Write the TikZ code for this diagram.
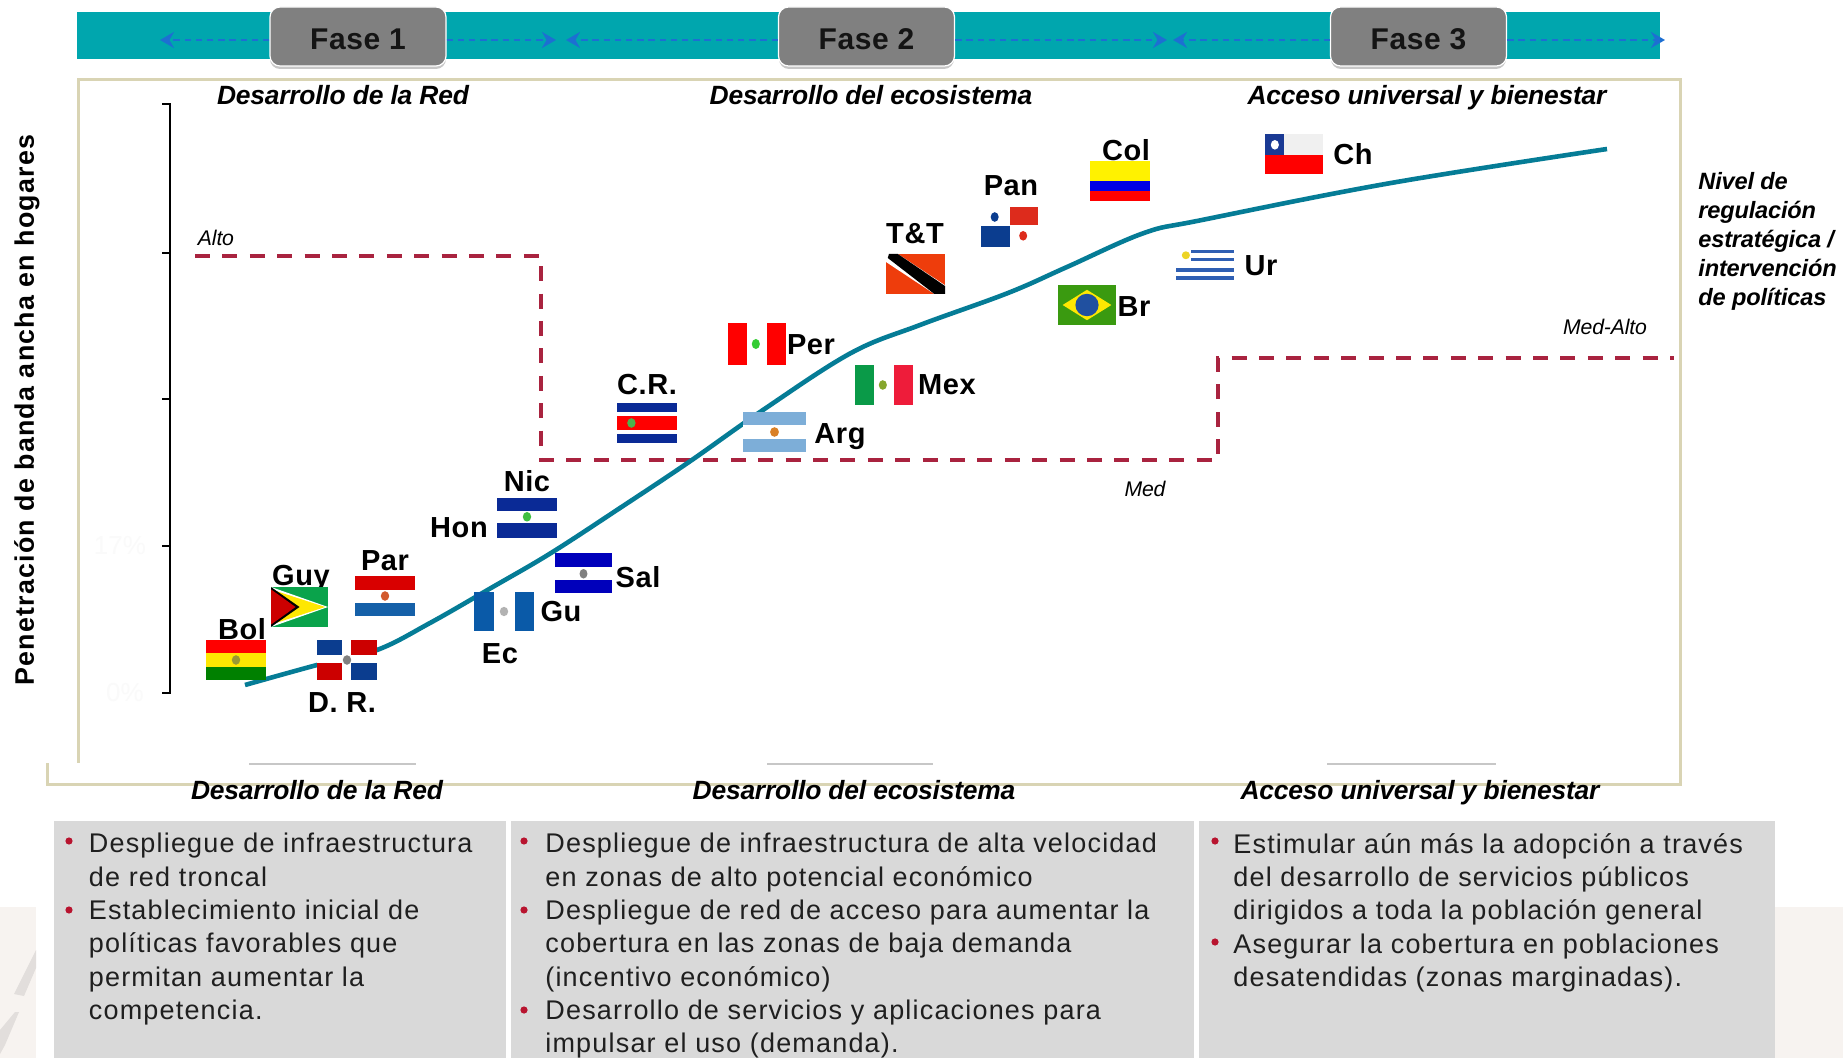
\documentclass[tikz,border=0pt]{standalone}
\usepackage{fontspec}
\setmainfont{Liberation Sans}
\newfontfamily\bodyf[LetterSpace=4.4]{Liberation Sans}
\newfontfamily\labf[LetterSpace=2]{Liberation Sans}
\newfontfamily\headf[LetterSpace=-0.8]{Liberation Sans}
\usetikzlibrary{arrows.meta}
\definecolor{bandc}{HTML}{00A6AE}
\definecolor{boxgray}{HTML}{808080}
\definecolor{framec}{HTML}{D9D4B4}
\definecolor{curvec}{HTML}{057C96}
\definecolor{redd}{HTML}{A9233F}
\definecolor{arrowc}{HTML}{1D6FD2}
\definecolor{panel}{HTML}{D9D9D9}
\definecolor{wm}{HTML}{F7F3F0}
\definecolor{streak}{HTML}{E2DEDC}
\definecolor{bulletc}{HTML}{B8142F}
\definecolor{argb}{HTML}{7DAED8}
\definecolor{guab}{HTML}{0A5AA8}
\definecolor{parb}{HTML}{1560A8}
\definecolor{drb}{HTML}{0B3D8F}
\definecolor{nicb}{HTML}{0A2A96}
\definecolor{salb}{HTML}{0000BB}
\definecolor{mexg}{HTML}{0A9A48}
\definecolor{mexr}{HTML}{EE1C3A}
\definecolor{guyg}{HTML}{0AA34B}
\definecolor{brg}{HTML}{3A9A10}
\definecolor{brb}{HTML}{2050A0}
\definecolor{ttr}{HTML}{EE3D0C}
\definecolor{panr}{HTML}{DD2B1C}
\definecolor{urb}{HTML}{2F5FB3}
\definecolor{chb}{HTML}{1A3A94}
\newcommand{\myflag}[5]{\begin{scope}[shift={(#1,#2)},x=#3*0.5pt-#1*0.5pt,y=#2*0.5pt-#4*0.5pt]#5\end{scope}}
\newcommand{\hb}[3]{\fill[#3] (0,#1) rectangle (1,#2);}
\newcommand{\vb}[3]{\fill[#3] (#1,0) rectangle (#2,1);}
\newcommand{\emb}[3]{\fill[#3] (#1,#2) circle[x radius=.07,y radius=.12];}
\tikzset{
  fasebox/.style={fill=boxgray,draw=white,line width=.6pt,rounded corners=5pt,minimum width=88pt,minimum height=29.5pt,inner sep=0pt,font=\labf\bfseries\fontsize{15}{18}\selectfont,text=black!92},
  shadowbox/.style={fill=black!22,rounded corners=5pt},
  bandrect/.style={fill=bandc},
  phasearrow/.style={draw=arrowc,line width=1.3pt,dash pattern=on 3.2pt off 2.4pt,-{Stealth[length=7pt,width=8pt]}},
  lab/.style={font=\labf\bfseries\fontsize{14.5}{17}\selectfont,inner sep=0pt,text=black},
  head/.style={font=\headf\bfseries\itshape\fontsize{13.2}{16}\selectfont,inner sep=0pt,text=black,text height=10pt,text depth=3pt},
  small/.style={font=\headf\itshape\fontsize{10.6}{12}\selectfont,inner sep=0pt,text=black},
  sidetext/.style={font=\headf\bfseries\itshape\fontsize{11.8}{14.5}\selectfont,inner sep=0pt,align=left,anchor=north west,text=black},
  frameline/.style={draw=framec,line width=1.5pt},
  stub/.style={draw=black!22,line width=1.2pt},
  panelbox/.style={fill=panel},
  bodytext/.style={font=\bodyf\fontsize{13.5}{16.65}\selectfont,inner sep=0pt,align=left,anchor=north west,text=black!88},
  bulletdot/.style={circle,fill=bulletc,inner sep=0pt,minimum size=3.6pt},
  tick/.style={draw=black,line width=.8pt},
  faint/.style={font=\fontsize{13}{15}\selectfont,text=black!2,inner sep=0pt}
}
\begin{document}
\begin{tikzpicture}[x=0.5pt,y=-0.5pt]
\useasboundingbox (0,0) rectangle (1843,1058);
\fill[white] (0,0) rectangle (1843,1058);
% watermark
\fill[wm] (0,907) rectangle (36,1058);
\fill[streak] (14,994) -- (24,996) -- (36,968) -- (36,950) -- cycle;
\fill[streak] (0,1030) -- (15,1012) -- (19,1012) -- (5,1045) -- (0,1054) -- cycle;
\fill[wm] (1775,907) rectangle (1843,1058);
% band
\fill[bandrect] (77,12) rectangle (1660,59);
\fill[shadowbox] (270,12) rectangle (446,69);
\fill[shadowbox] (779,12) rectangle (954,69);
\fill[shadowbox] (1331,12) rectangle (1506,69);
\node[fasebox] (f1) at (358,36.5) {\raisebox{-1.2pt}[11pt][0pt]{Fase 1}};
\node[fasebox] (f2) at (866.5,36.5) {\raisebox{-1.2pt}[11pt][0pt]{Fase 2}};
\node[fasebox] (f3) at (1418.5,36.5) {\raisebox{-1.2pt}[11pt][0pt]{Fase 3}};
\coordinate (t1) at (160,40);
\coordinate (t2) at (556,40);
\coordinate (t3) at (566,40);
\coordinate (t4) at (1167,40);
\coordinate (t5) at (1173,40);
\coordinate (t6) at (1665,40);
\draw[phasearrow] ([yshift=-1.75pt]f1.west) -- (t1);
\draw[phasearrow] ([yshift=-1.75pt]f1.east) -- (t2);
\draw[phasearrow] ([yshift=-1.75pt]f2.west) -- (t3);
\draw[phasearrow] ([yshift=-1.75pt]f2.east) -- (t4);
\draw[phasearrow] ([yshift=-1.75pt]f3.west) -- (t5);
\draw[phasearrow] ([yshift=-1.75pt]f3.east) -- (t6);
% frame
\draw[frameline] (78,763) -- (78,80) -- (1680,80) -- (1680,785) -- (47,785) -- (47,763);
\draw[stub] (249,764) -- (416,764);
\draw[stub] (767,764) -- (933,764);
\draw[stub] (1327,764) -- (1496,764);
% axis
\draw[tick] (162,104) -- (170,104) -- (170,693) -- (162,693);
\draw[tick] (162,253) -- (170,253);
\draw[tick] (162,399) -- (170,399);
\draw[tick] (162,546) -- (170,546);
\node[faint] (t17) at (120,546) {17\%};
\node[faint] (t0) at (125,693) {0\%};
\node[font=\bodyf\bfseries\fontsize{13.4}{16}\selectfont,inner sep=0pt,rotate=90] (ylab) at (27,410) {Penetración de banda ancha en hogares};
% dashed level
\draw[redd,line width=1.8pt,dash pattern=on 7.5pt off 6.2pt] (195,256) -- (541,256) -- (541,460) -- (1218,460) -- (1218,358) -- (1674,358);
\node[small] (alto) at (216,238) {Alto};
\node[small] (medalto) at (1605,327) {Med-Alto};
\node[small] (med) at (1145,489) {Med};
% curve
\draw[curvec,line width=2.3pt] plot[smooth,tension=.6] coordinates {(245,685) (317,665) (377,650) (430,623) (491,588) (551,553) (620,508) (689,462) (763,410) (851,353) (920,325) (1008,293) (1067,267) (1144,233) (1202,220) (1391,183) (1607,149)};
% labels
\node[lab] (lBol) at (242,629) {Bol};
\node[lab] (lGuy) at (301,578) {Guy};
\node[lab] (lPar) at (385,561) {Par};
\node[lab] (lDR) at (342,703) {D. R.};
\node[lab] (lEc) at (500,654) {Ec};
\node[lab] (lGu) at (561,612) {Gu};
\node[lab] (lSal) at (638,577) {Sal};
\node[lab] (lHon) at (459,528) {Hon};
\node[lab] (lNic) at (527,481) {Nic};
\node[lab] (lCR) at (647,385) {C.R.};
\node[lab] (lPer) at (811,345) {Per};
\node[lab] (lMex) at (947,385) {Mex};
\node[lab] (lArg) at (840,437) {Arg};
\node[lab] (lTT) at (915,234) {T\&T};
\node[lab] (lPan) at (1011,186) {Pan};
\node[lab] (lCol) at (1126,150) {Col};
\node[lab] (lCh) at (1353,154) {Ch};
\node[lab] (lUr) at (1261,266) {Ur};
\node[lab] (lBr) at (1134,307) {Br};
% flags
\myflag{206}{640}{266}{680}{\hb{0}{.33}{red}\hb{.33}{.67}{yellow!90!orange}\hb{.67}{1}{green!50!black}\emb{.5}{.5}{brown!80!green}}
\myflag{271}{587}{328}{627}{\hb{0}{1}{guyg}\fill[white] (0,0) -- (1,.5) -- (0,1) -- cycle;\fill[yellow!90!orange] (0,.06) -- (.95,.5) -- (0,.94) -- cycle;\fill[black] (0,0) -- (.5,.5) -- (0,1) -- cycle;\fill[red!80!black] (0,.06) -- (.43,.5) -- (0,.94) -- cycle;}
\myflag{355}{576}{415}{616}{\hb{0}{.36}{red!85!black}\hb{.36}{.67}{white}\hb{.67}{1}{parb}\emb{.5}{.5}{brown!70!red}}
\myflag{317}{640}{377}{680}{\hb{0}{1}{white}\fill[drb] (0,0) rectangle (.42,.38);\fill[red!80!black] (.57,0) rectangle (1,.38);\fill[red!80!black] (0,.58) rectangle (.42,1);\fill[drb] (.57,.58) rectangle (1,1);\emb{.5}{.5}{gray}}
\myflag{474}{592}{534}{631}{\hb{0}{1}{white}\vb{0}{.34}{guab}\vb{.68}{1}{guab}\emb{.5}{.5}{gray!60}}
\myflag{555}{553}{612}{593}{\hb{0}{.36}{salb}\hb{.36}{.68}{white}\hb{.68}{1}{salb}\emb{.5}{.52}{gray}}
\myflag{497}{498}{557}{538}{\hb{0}{.32}{nicb}\hb{.32}{.62}{white}\hb{.62}{1}{nicb}\emb{.5}{.47}{green!50!gray}}
\myflag{617}{403}{677}{443}{\hb{0}{1}{white}\hb{0}{.22}{nicb}\hb{.33}{.67}{red}\hb{.78}{1}{nicb}\emb{.24}{.5}{green!40!gray}}
\myflag{743}{412}{806}{452}{\hb{0}{1}{white}\hb{0}{.33}{argb}\hb{.67}{1}{argb}\emb{.5}{.5}{orange!70!gray}}
\myflag{728}{323}{786}{365}{\hb{0}{1}{white}\vb{0}{.33}{red}\vb{.67}{1}{red}\emb{.48}{.5}{green!60!gray}}
\myflag{855}{365}{913}{405}{\hb{0}{1}{white}\vb{0}{.33}{mexg}\vb{.67}{1}{mexr}\emb{.48}{.5}{brown!70!green}}
\myflag{886}{254}{945}{294}{\hb{0}{1}{ttr}\fill[white] (0,0) -- (.2,0) -- (1,.78) -- (1,1) -- (.82,1) -- (0,.2) -- cycle;\fill[black] (.05,0) -- (.2,0) -- (1,.8) -- (1,1) -- (.82,1) -- (.03,.1) -- cycle;}
\myflag{981}{207}{1038}{247}{\hb{0}{1}{white}\fill[panr] (.5,0) rectangle (1,.45);\fill[drb] (0,.47) rectangle (.5,1);\emb{.24}{.25}{drb}\emb{.74}{.72}{panr}}
\myflag{1090}{161}{1150}{201}{\hb{0}{.5}{yellow}\hb{.5}{.75}{blue!90!black}\hb{.75}{1}{red}}
\myflag{1265}{134}{1323}{174}{\hb{0}{.52}{black!6}\hb{.52}{1}{red}\fill[chb] (0,0) rectangle (.33,.52);\emb{.17}{.27}{white}}
\myflag{1176}{248}{1234}{281}{\hb{0}{1}{white}\hb{.06}{.16}{urb}\hb{.3}{.4}{urb}\hb{.62}{.72}{urb}\hb{.86}{.96}{urb}\fill[white] (0,0) rectangle (.25,.5);\emb{.17}{.22}{yellow!70!brown}}
\myflag{1058}{285}{1116}{325}{\hb{0}{1}{brg}\fill[yellow!90!orange] (.08,.5) -- (.5,.12) -- (.92,.5) -- (.5,.88) -- cycle;\fill[brb] (.5,.5) circle[x radius=.2,y radius=.28];}
% headers
\node[head] (h1) at (343,98) {Desarrollo de la Red};
\node[head] (h2) at (871,98) {Desarrollo del ecosistema};
\node[head] (h3) at (1427,98) {Acceso universal y bienestar};
\node[head] (b1) at (317,792) {Desarrollo de la Red};
\node[head] (b2) at (854,792) {Desarrollo del ecosistema};
\node[head] (b3) at (1420,792) {Acceso universal y bienestar};
\node[sidetext] (side) at (1698,172) {Nivel de\\regulación\\estratégica /\\intervención\\de políticas};
% panels
\fill[panelbox] (54,821) rectangle (506,1058);
\fill[panelbox] (510.5,821) rectangle (1194,1058);
\fill[panelbox] (1199,821) rectangle (1775,1058);
\node[bodytext] (c1) at (88.5,833) {Despliegue de infraestructura\\de red troncal\\Establecimiento inicial de\\políticas favorables que\\permitan aumentar la\\competencia.};
\node[bodytext] (c2) at (545,833) {Despliegue de infraestructura de alta velocidad\\en zonas de alto potencial económico\\Despliegue de red de acceso para aumentar la\\cobertura en las zonas de baja demanda\\(incentivo económico)\\Desarrollo de servicios y aplicaciones para\\impulsar el uso (demanda).};
\node[bodytext] (c3) at (1233,833) {Estimular aún más la adopción a través\\del desarrollo de servicios públicos\\dirigidos a toda la población general\\Asegurar la cobertura en poblaciones\\desatendidas (zonas marginadas).};
\node[bulletdot] (d1) at (69,841) {};
\node[bulletdot] (d2) at (69,910) {};
\node[bulletdot] (d3) at (524,841) {};
\node[bulletdot] (d4) at (524,910) {};
\node[bulletdot] (d5) at (524,1010) {};
\node[bulletdot] (d6) at (1215,841) {};
\node[bulletdot] (d7) at (1215,942) {};
\end{tikzpicture}
\end{document}
